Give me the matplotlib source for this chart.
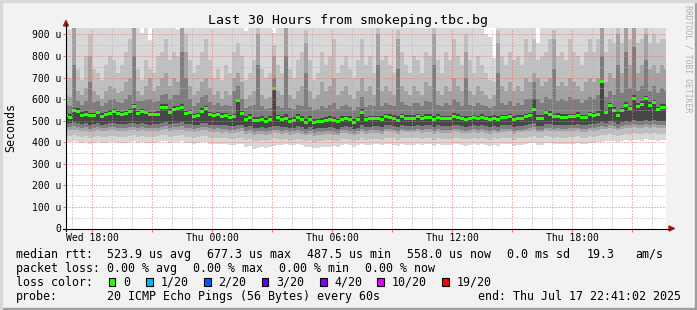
import numpy as np
import pandas as pd
import matplotlib
matplotlib.use('Agg')
import matplotlib.pyplot as plt
import matplotlib.dates as mdates
from matplotlib.ticker import MultipleLocator, FuncFormatter
from matplotlib.lines import Line2D
from matplotlib.patches import Rectangle, Polygon

plt.rcParams['font.family'] = 'DejaVu Sans Mono'

W, H = 697, 310
end_time = pd.Timestamp('2025-07-17 22:41:02')
hours_shown = 30
step = '12min'

# median rtt per 12 minute column, microseconds
median = [524,
          516, 546, 543, 526, 530, 524, 524, 536, 521, 527,
          535, 541, 533, 529, 533, 541, 564, 532, 541, 536,
          527, 529, 530, 563, 563, 539, 552, 555, 561, 533,
          536, 519, 524, 543, 555, 527, 524, 527, 521, 524,
          515, 518, 595, 532, 507, 516, 502, 502, 507,
          496,
          505, 649, 513, 505, 509, 498, 501, 513, 505, 493,
          504, 491, 496, 496, 499, 504, 501, 496, 507, 509,
          505, 493, 504, 538, 504, 509, 509, 509, 505, 518,
          515, 512, 502, 518, 512, 512, 512, 518, 509, 515,
          515, 505, 515, 509, 509, 509, 519, 515, 509,
          507,
          509, 513, 509, 515, 509, 505, 512, 507, 513, 513,
          518, 505, 512, 512, 518, 524, 550, 512, 512, 536,
          530, 518, 521, 516, 516, 518, 518, 526, 513, 513,
          527, 524, 530, 680, 536, 569, 547, 524, 546, 572,
          555, 604, 564, 577, 601, 572, 584, 550, 561,
          563]

# smoke, upper edges: max ping down to just above the median
smoke_hi1 = [960,
             925, 960, 960, 960, 960, 960, 960, 960, 960, 960,
             960, 960, 960, 960, 960, 960, 960, 960, 906, 960,
             875, 960, 960, 960, 960, 960, 960, 925, 960, 960,
             960, 960, 960, 960, 960, 960, 960, 960, 960, 960,
             960, 960, 960, 960, 918, 960, 960, 960, 960,
             960,
             960, 905, 960, 960, 960, 960, 960, 960, 960, 960,
             960, 960, 960, 960, 960, 960, 960, 960, 960, 960,
             960, 960, 960, 960, 960, 960, 960, 960, 960, 960,
             960, 960, 960, 960, 960, 960, 960, 960, 960, 960,
             960, 960, 960, 960, 960, 960, 960, 960, 960,
             960,
             960, 960, 960, 960, 900, 890, 790, 960, 960, 960,
             960, 960, 960, 960, 960, 960, 960, 860, 960, 960,
             960, 960, 960, 960, 960, 960, 960, 960, 960, 960,
             960, 960, 960, 960, 960, 960, 960, 960, 960, 960,
             960, 960, 960, 960, 960, 960, 960, 960, 960,
             960]
smoke_hi2 = [720,
             700, 960, 740, 690, 800, 900, 740, 720, 690, 760,
             800, 780, 720, 760, 820, 880, 960, 740, 690, 780,
             740, 720, 800, 820, 880, 780, 820, 800, 960, 900,
             780, 720, 760, 820, 880, 780, 700, 740, 690, 760,
             720, 820, 860, 800, 690, 720, 780, 940, 740,
             700,
             720, 850, 760, 720, 960, 740, 700, 780, 820, 920,
             780, 690, 720, 820, 760, 800, 880, 720, 760, 800,
             740, 700, 780, 880, 760, 800, 720, 940, 780, 800,
             760, 720, 920, 820, 760, 720, 800, 780, 720, 820,
             800, 940, 780, 720, 820, 780, 880, 800, 760,
             900,
             780, 720, 800, 760, 720, 690, 680, 920, 800, 760,
             820, 780, 800, 760, 880, 820, 880, 780, 800, 820,
             880, 920, 800, 820, 780, 880, 820, 800, 760, 820,
             880, 820, 880, 960, 820, 880, 860, 940, 860, 960,
             880, 960, 860, 880, 940, 860, 900, 860, 880,
             880]
smoke_hi3 = [620,
             610, 960, 640, 620, 650, 800, 640, 620, 600, 640,
             660, 650, 630, 640, 680, 700, 960, 640, 620, 660,
             700, 640, 660, 700, 720, 660, 700, 680, 960, 820,
             660, 620, 640, 680, 700, 650, 620, 640, 600, 640,
             620, 700, 720, 680, 600, 620, 640, 900, 620,
             600,
             610, 800, 640, 620, 960, 620, 600, 640, 660, 860,
             640, 600, 620, 680, 640, 660, 700, 620, 640, 660,
             620, 600, 640, 700, 640, 660, 620, 900, 640, 660,
             640, 620, 880, 660, 640, 620, 660, 640, 620, 680,
             660, 900, 640, 620, 660, 640, 700, 660, 640,
             820,
             640, 620, 660, 640, 620, 600, 620, 860, 660, 640,
             680, 640, 660, 640, 700, 680, 720, 700, 660, 680,
             700, 880, 660, 680, 660, 700, 680, 660, 640, 680,
             700, 680, 700, 960, 680, 720, 700, 900, 720, 960,
             760, 960, 720, 760, 900, 740, 760, 720, 760,
             740]
smoke_hi4 = [575,
             570, 760, 590, 575, 590, 680, 585, 590, 570, 580,
             595, 600, 585, 580, 600, 620, 800, 590, 590, 595,
             600, 585, 590, 620, 625, 600, 620, 620, 820, 700,
             600, 570, 580, 610, 620, 585, 575, 580, 570, 575,
             570, 640, 660, 600, 560, 570, 575, 760, 570,
             555,
             560, 700, 570, 560, 800, 560, 555, 575, 570, 720,
             565, 550, 555, 570, 560, 575, 580, 555, 570, 575,
             565, 550, 565, 610, 565, 575, 570, 760, 570, 580,
             575, 570, 740, 585, 575, 570, 580, 580, 570, 590,
             585, 760, 575, 570, 580, 575, 600, 585, 570,
             700,
             575, 570, 580, 575, 570, 560, 570, 720, 580, 575,
             590, 570, 580, 575, 600, 600, 680, 600, 580, 610,
             600, 740, 590, 600, 590, 610, 600, 600, 580, 595,
             610, 600, 620, 800, 610, 640, 620, 760, 630, 820,
             650, 840, 640, 660, 780, 640, 660, 630, 650,
             640]
smoke_hi5 = [538,
             530, 560, 558, 540, 545, 538, 538, 550, 535, 540,
             548, 555, 546, 542, 546, 556, 578, 545, 555, 550,
             540, 542, 544, 576, 578, 552, 566, 570, 578, 546,
             550, 532, 538, 558, 570, 540, 538, 540, 534, 538,
             528, 532, 600, 545, 522, 530, 516, 518, 522,
             512,
             520, 654, 528, 520, 530, 514, 516, 530, 520, 508,
             520, 506, 510, 512, 515, 520, 516, 510, 522, 524,
             520, 508, 518, 552, 518, 524, 524, 524, 520, 532,
             530, 526, 520, 532, 526, 526, 526, 532, 524, 530,
             530, 520, 530, 524, 524, 524, 534, 530, 524,
             522,
             524, 528, 524, 530, 524, 520, 526, 522, 528, 528,
             532, 520, 526, 526, 532, 538, 600, 526, 526, 550,
             545, 532, 536, 530, 530, 532, 532, 540, 528, 528,
             542, 538, 545, 684, 550, 584, 562, 540, 560, 586,
             570, 618, 580, 592, 615, 586, 598, 565, 576,
             578]

# smoke, lower edges: min ping up to just below the median
smoke_lo5 = [490,
             488, 492, 490, 485, 488, 480, 485, 490, 482, 485,
             488, 490, 485, 484, 486, 488, 490, 485, 488, 486,
             482, 484, 486, 490, 492, 485, 488, 490, 492, 484,
             486, 478, 482, 488, 490, 482, 480, 482, 478, 480,
             474, 476, 480, 482, 470, 474, 465, 468, 472,
             465,
             470, 475, 474, 470, 472, 466, 468, 474, 470, 462,
             470, 460, 464, 465, 466, 470, 466, 462, 472, 474,
             470, 462, 468, 478, 470, 472, 474, 474, 470, 480,
             478, 476, 470, 480, 476, 476, 476, 480, 474, 478,
             478, 470, 478, 474, 474, 474, 480, 478, 474,
             472,
             474, 478, 474, 478, 474, 470, 476, 472, 478, 478,
             480, 470, 476, 476, 480, 484, 488, 476, 476, 486,
             484, 480, 482, 480, 480, 482, 482, 486, 478, 478,
             486, 484, 488, 492, 490, 498, 492, 486, 494, 500,
             496, 505, 500, 498, 505, 500, 502, 498, 500,
             500]
smoke_lo4 = [472,
             470, 475, 472, 468, 470, 462, 468, 472, 465, 468,
             470, 472, 468, 466, 468, 470, 472, 468, 470, 468,
             465, 466, 468, 472, 474, 468, 470, 472, 474, 466,
             468, 462, 465, 470, 472, 465, 462, 465, 460, 462,
             456, 458, 462, 465, 452, 456, 448, 450, 454,
             448,
             452, 458, 456, 452, 455, 448, 450, 456, 452, 445,
             452, 444, 447, 448, 450, 452, 448, 445, 455, 456,
             452, 445, 450, 460, 452, 455, 456, 456, 452, 462,
             460, 458, 452, 462, 458, 458, 458, 462, 456, 460,
             460, 452, 460, 456, 456, 456, 462, 460, 456,
             454,
             456, 460, 456, 460, 456, 452, 458, 454, 460, 460,
             462, 452, 458, 458, 462, 466, 470, 458, 458, 468,
             466, 462, 464, 462, 462, 464, 464, 468, 460, 460,
             468, 466, 470, 474, 472, 480, 474, 468, 476, 482,
             478, 487, 482, 480, 487, 482, 484, 480, 482,
             482]
smoke_lo3 = [455,
             455, 458, 455, 450, 452, 448, 452, 456, 450, 452,
             455, 456, 452, 450, 452, 455, 458, 450, 455, 452,
             450, 452, 454, 458, 460, 452, 455, 456, 458, 450,
             452, 446, 450, 455, 456, 448, 446, 448, 445, 446,
             442, 444, 448, 450, 438, 442, 436, 438, 440,
             436,
             440, 446, 444, 440, 442, 436, 438, 444, 440, 432,
             440, 430, 434, 436, 438, 440, 436, 432, 442, 444,
             440, 432, 438, 448, 440, 442, 444, 444, 440, 450,
             448, 446, 440, 450, 446, 446, 446, 450, 444, 448,
             448, 440, 448, 444, 444, 444, 450, 448, 444,
             442,
             444, 448, 444, 448, 444, 440, 446, 442, 448, 448,
             450, 440, 446, 446, 450, 454, 456, 446, 446, 456,
             454, 450, 452, 450, 450, 452, 452, 456, 448, 448,
             456, 454, 458, 460, 460, 466, 460, 456, 462, 468,
             464, 470, 468, 466, 472, 468, 470, 466, 468,
             468]
smoke_lo2 = [430,
             428, 432, 430, 424, 428, 420, 426, 430, 424, 426,
             430, 430, 426, 424, 426, 430, 432, 424, 430, 426,
             424, 426, 428, 432, 434, 426, 430, 430, 432, 424,
             426, 420, 424, 430, 430, 422, 420, 422, 418, 420,
             414, 416, 420, 422, 410, 414, 406, 408, 412,
             408,
             412, 418, 416, 412, 414, 408, 410, 416, 412, 404,
             412, 402, 406, 408, 410, 412, 408, 404, 414, 416,
             412, 404, 410, 420, 412, 414, 416, 416, 412, 422,
             420, 418, 412, 422, 418, 418, 418, 422, 416, 420,
             420, 412, 420, 416, 416, 416, 422, 420, 416,
             414,
             416, 420, 416, 420, 416, 412, 418, 414, 420, 420,
             422, 412, 418, 418, 422, 426, 428, 418, 418, 428,
             426, 422, 424, 422, 422, 424, 424, 428, 420, 420,
             428, 426, 430, 432, 432, 438, 432, 428, 434, 440,
             436, 442, 440, 438, 444, 440, 442, 438, 440,
             440]
smoke_lo1 = [402,
             400, 405, 402, 396, 400, 392, 398, 402, 396, 398,
             402, 402, 398, 396, 398, 402, 404, 396, 402, 398,
             396, 398, 400, 404, 406, 398, 402, 402, 404, 396,
             398, 392, 396, 402, 402, 394, 392, 394, 390, 392,
             386, 388, 392, 394, 380, 384, 370, 372, 376,
             372,
             376, 382, 388, 386, 392, 386, 388, 392, 388, 376,
             380, 372, 374, 376, 378, 380, 384, 380, 388, 390,
             386, 380, 386, 392, 386, 388, 390, 390, 386, 392,
             390, 388, 384, 392, 388, 388, 388, 392, 386, 390,
             390, 384, 390, 388, 388, 388, 392, 390, 386,
             384,
             386, 390, 386, 390, 386, 382, 388, 384, 390, 390,
             392, 382, 386, 388, 392, 396, 398, 388, 388, 398,
             396, 392, 394, 392, 392, 394, 394, 398, 390, 390,
             398, 396, 400, 402, 404, 408, 404, 400, 406, 410,
             408, 412, 410, 408, 414, 410, 412, 408, 410,
             410]

smoke_colors = ['#d8d8d8', '#c0c0c0', '#a2a2a2', '#7e7e7e', '#474747']

loss_labels = ['0', '1/20', '2/20', '3/20', '4/20', '10/20', '19/20']
loss_colors = ['#26ff00', '#00b8ff', '#0059ff', '#5e00ff', '#7e00ff', '#dd00ff', '#ff0000']

start_time = end_time - pd.Timedelta(hours=hours_shown)
inner = pd.date_range(start_time.ceil(step), end_time, freq=step)
edges = mdates.date2num([start_time] + list(inner) + [end_time])


def fx(px):
    return px / W


def fy(py):
    return 1 - py / H


fig = plt.figure(figsize=(W / 100, H / 100), dpi=100, facecolor='#f2f2f2')
ax = fig.add_axes([fx(66), fy(228.5), 600 / W, 200.5 / H])
ax.set_facecolor('white')

bands = [(smoke_lo1, smoke_hi1), (smoke_lo2, smoke_hi2), (smoke_lo3, smoke_hi3),
         (smoke_lo4, smoke_hi4), (smoke_lo5, smoke_hi5)]
for (lo, hi), col in zip(bands, smoke_colors):
    ax.stairs(hi, edges, baseline=lo, fill=True, color=col, lw=0, zorder=1)

med = np.array(median)
ax.stairs(med + 7, edges, baseline=med - 7, fill=True, color=loss_colors[0], lw=0, zorder=1.5)

ax.set_xlim(edges[0], edges[-1])
ax.set_ylim(0, 930)
for s in ax.spines.values():
    s.set_visible(False)


def xfmt(v, pos):
    d = mdates.num2date(v)
    return d.strftime('%a %H:%M') if d.hour % 6 == 0 else ''


ax.xaxis.set_major_locator(mdates.HourLocator(byhour=range(0, 24, 3)))
ax.xaxis.set_minor_locator(mdates.HourLocator())
ax.xaxis.set_major_formatter(FuncFormatter(xfmt))
ax.yaxis.set_major_locator(MultipleLocator(100))
ax.yaxis.set_minor_locator(MultipleLocator(50))
ax.yaxis.set_major_formatter(FuncFormatter(lambda v, p: '0' if v == 0 else '%d u' % v))

ax.grid(which='minor', color='#b4b4b4', linestyle=(0, (1, 2)), lw=0.72)
ax.grid(which='major', color='#ee7070', linestyle=(0, (1, 2)), lw=0.72)
ax.set_axisbelow(False)
ax.tick_params(which='major', length=2, width=0.72, color='#ee7070', labelsize=7, pad=1.5)
ax.tick_params(which='minor', length=0)

# axes with arrows
fig.add_artist(Line2D([fx(63), fx(670)], [fy(228.5)] * 2, color='black', lw=0.8))
fig.add_artist(Line2D([fx(66)] * 2, [fy(231), fy(24)], color='black', lw=0.8))
arrow_col = '#9c1c1c'
fig.add_artist(Polygon([(fx(669), fy(226)), (fx(669), fy(231)), (fx(674.5), fy(228.5))],
                       closed=True, color=arrow_col, transform=fig.transFigure))
fig.add_artist(Polygon([(fx(63.5), fy(26)), (fx(68.5), fy(26)), (fx(66), fy(20.5))],
                       closed=True, color=arrow_col, transform=fig.transFigure))

# frame shading
fig.add_artist(Rectangle((0, 0), 1, 2 / H, color='#9e9e9e', transform=fig.transFigure))
fig.add_artist(Rectangle((1 - 2 / W, 0), 2 / W, 1, color='#9e9e9e', transform=fig.transFigure))
fig.add_artist(Rectangle((0, 1 - 1.5 / H), 1, 1.5 / H, color='#d8d8d8', transform=fig.transFigure))
fig.add_artist(Rectangle((0, 0), 1.5 / W, 1, color='#d8d8d8', transform=fig.transFigure))

fig.text(fx(347.5), fy(24), 'Last 30 Hours from smokeping.tbc.bg', fontsize=9.5,
         ha='center', va='baseline')
fig.text(fx(11), fy(128), 'Seconds', fontsize=8.4, rotation=90, ha='center', va='center')
fig.text(fx(688), fy(59), 'RRDTOOL / TOBI OETIKER', fontsize=5.9, rotation=270,
         ha='center', va='center', color='#b0b0b0')

fs = 8.4
rows = [
    (257.7, [(16, 'median rtt:'), (107, '523.9 us avg'), (207, '677.3 us max'),
             (306.7, '487.5 us min'), (407.3, '558.0 us now'), (507.3, '0.0 ms sd'),
             (586.7, '19.3'), (635.7, 'am/s')]),
    (271.7, [(16, 'packet loss:'), (107, '0.00 % avg'), (193.3, '0.00 % max'),
             (279.3, '0.00 % min'), (365, '0.00 % now')]),
    (299.7, [(16, 'probe:'), (107, '20 ICMP Echo Pings (56 Bytes) every 60s'),
             (478.3, 'end: Thu Jul 17 22:41:02 2025')]),
]
for yb, items in rows:
    for xp, s in items:
        fig.text(fx(xp), fy(yb), s, fontsize=fs, ha='left', va='baseline')

fig.text(fx(16), fy(285.7), 'loss color:', fontsize=fs, ha='left', va='baseline')
box_x = [108.7, 146, 204, 261.7, 320, 377.3, 442.3]
for bx, lab, col in zip(box_x, loss_labels, loss_colors):
    fig.add_artist(Rectangle((fx(bx), fy(286)), 6.6 / W, 7.7 / H, facecolor=col,
                             edgecolor='black', lw=0.8, transform=fig.transFigure))
    fig.text(fx(bx + 14.6), fy(285.7), lab, fontsize=fs, ha='left', va='baseline')

fig.savefig('out.png', dpi=100, facecolor=fig.get_facecolor())
